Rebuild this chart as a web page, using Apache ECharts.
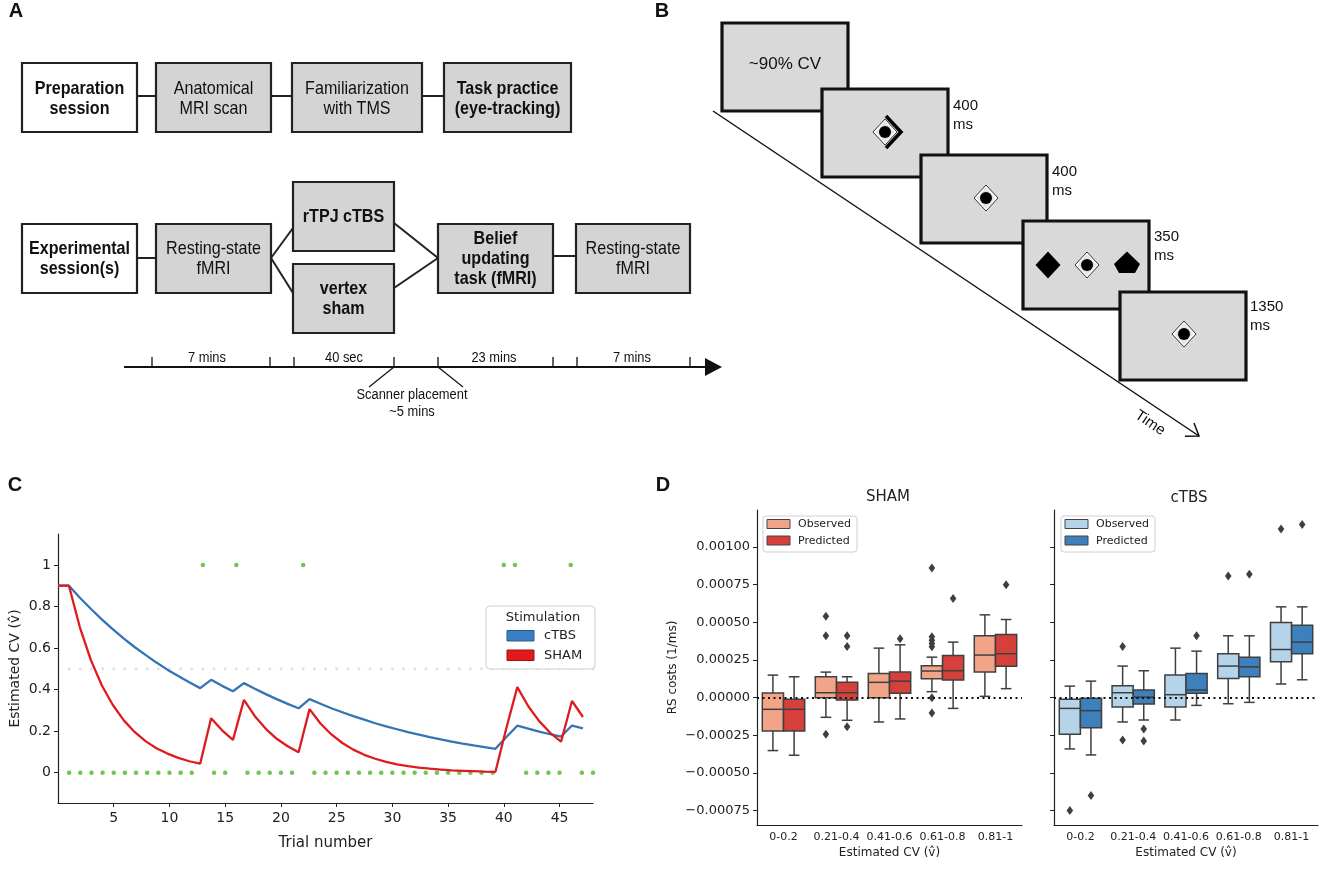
<!DOCTYPE html>
<html><head><meta charset="utf-8">
<script src="https://cdn.jsdelivr.net/npm/echarts@6/dist/echarts.min.js"></script>
<style>html,body{margin:0;padding:0;background:#fff}#chart{width:1333px;height:878px}</style>
</head><body><div id="chart"></div>
<script>
// ================= DATA =================
// ---- Panel A (study design) ----
const prepSteps = ['Preparation\nsession', 'Anatomical\nMRI scan', 'Familiarization\nwith TMS', 'Task practice\n(eye-tracking)'];
const expSteps = ['Experimental\nsession(s)', 'Resting-state\nfMRI', 'rTPJ cTBS', 'vertex\nsham', 'Belief\nupdating\ntask (fMRI)', 'Resting-state\nfMRI'];
const timelineLabels = ['7 mins', '40 sec', '23 mins', '7 mins'];
const scannerNote = 'Scanner placement\n~5 mins';
// ---- Panel B (trial sequence) ----
const cueText = '~90% CV';
const durations = ['400\nms', '400\nms', '350\nms', '1350\nms'];
const timeLabel = 'Time';
// ---- Panel C (estimated CV per trial) ----
const lineTrials = [0,1,2,3,4,5,6,7,8,9,10,11,12,13,14,15,16,17,18,19,20,21,22,23,24,25,26,27,28,29,30,31,32,33,34,35,36,37,38,39,40,41,42,43,44,45,46,47,48];
const ctbsCV = [0.900,0.900,0.842,0.789,0.738,0.691,0.647,0.605,0.567,0.530,
                0.496,0.465,0.435,0.407,0.447,0.418,0.392,0.431,0.404,0.378,
                0.354,0.331,0.310,0.354,0.332,0.310,0.291,0.272,0.255,0.238,
                0.223,0.209,0.195,0.183,0.171,0.160,0.150,0.140,0.131,0.123,
                0.115,0.172,0.226,0.212,0.198,0.185,0.174,0.227,0.213];
const shamCV = [0.900,0.900,0.700,0.543,0.421,0.327,0.253,0.196,0.152,0.118,
                0.092,0.071,0.055,0.043,0.262,0.204,0.158,0.350,0.272,0.211,
                0.163,0.127,0.098,0.306,0.237,0.184,0.143,0.111,0.086,0.067,
                0.052,0.040,0.031,0.024,0.019,0.015,0.011,0.009,0.007,0.005,
                0.004,0.215,0.412,0.320,0.248,0.192,0.149,0.345,0.268];
const outcomeTrials = [1,2,3,4,5,6,7,8,9,10,11,12,13,14,15,16,17,18,19,20,21,22,23,24,25,26,27,28,29,30,31,32,33,34,35,36,37,38,39,40,41,42,43,44,45,46,47,48];
const outcomes = [0,0,0,0,0,0,0,0,0,0,0,0,1,0,0,1,0,0,0,0,0,1,0,0,0,0,0,0,0,0,0,0,0,0,0,0,0,0,0,1,1,0,0,0,0,1,0,0];
const chanceLevel = 0.5;
const cXTicks = [5,10,15,20,25,30,35,40,45];
const cYTicks = [0,0.2,0.4,0.6,0.8,1];
const stimNames = ['cTBS', 'SHAM'];
// ---- Panel D (RS costs boxplots): [min, Q1, median, Q3, max] ----
const cvBins = ['0-0.2', '0.21-0.4', '0.41-0.6', '0.61-0.8', '0.81-1'];
const shamObserved = [
  [-0.000351,-0.000221,-0.000077, 0.000031, 0.000150],
  [-0.000130, 0.000000, 0.000033, 0.000139, 0.000170],
  [-0.000161, 0.000000, 0.000102, 0.000161, 0.000329],
  [ 0.000040, 0.000126, 0.000177, 0.000212, 0.000269],
  [ 0.000009, 0.000170, 0.000283, 0.000411, 0.000550]];
const shamPredicted = [
  [-0.000382,-0.000221,-0.000077,-0.000011, 0.000139],
  [-0.000150,-0.000016, 0.000033, 0.000102, 0.000139],
  [-0.000141, 0.000029, 0.000110, 0.000170, 0.000351],
  [-0.000071, 0.000117, 0.000179, 0.000280, 0.000369],
  [ 0.000060, 0.000208, 0.000292, 0.000420, 0.000519]];
const ctbsObserved = [
  [-0.000340,-0.000243,-0.000071,-0.000011, 0.000077],
  [-0.000161,-0.000062, 0.000033, 0.000080, 0.000210],
  [-0.000148,-0.000062, 0.000020, 0.000150, 0.000329],
  [-0.000040, 0.000128, 0.000210, 0.000292, 0.000411],
  [ 0.000091, 0.000239, 0.000320, 0.000499, 0.000603]];
const ctbsPredicted = [
  [-0.000380,-0.000199,-0.000086,-0.000004, 0.000110],
  [-0.000148,-0.000042, 0.000004, 0.000051, 0.000179],
  [-0.000051, 0.000029, 0.000051, 0.000161, 0.000309],
  [-0.000031, 0.000139, 0.000205, 0.000269, 0.000411],
  [ 0.000119, 0.000292, 0.000369, 0.000481, 0.000603]];
// outliers: [bin index, value]
const shamObservedOut = [[1,0.000541],[1,0.000411],[1,-0.000243],[3,0.000861],[3,0.000404],[3,0.000382],[3,0.000360],[3,0.000338],[3,0.000000],[3,-0.000102]];
const shamPredictedOut = [[1,0.000411],[1,0.000340],[1,-0.000192],[2,0.000391],[3,0.000658],[4,0.000749]];
const ctbsObservedOut = [[0,-0.000749],[1,0.000340],[1,-0.000280],[3,0.000808],[4,0.001120]];
const ctbsPredictedOut = [[0,-0.000649],[1,-0.000208],[1,-0.000287],[2,0.000411],[3,0.000819],[4,0.001150]];
const dYTicks = [-0.00075,-0.0005,-0.00025,0,0.00025,0.0005,0.00075,0.001];
const groupNames = ['Observed', 'Predicted'];
const panelTitles = ['SHAM', 'cTBS'];

// ================= STYLE / LAYOUT =================
const FONT_AB = "'Liberation Sans', Arial, sans-serif";
const FONT_CD = "'DejaVu Sans', sans-serif";
const INK = '#222';
const C_BLUE = '#3274b5', C_RED = '#de1b1f', C_GREEN = '#4cb826';
const D_COL = {shamObs:'#f2a489', shamPred:'#d6403a', ctbsObs:'#b5d4e9', ctbsPred:'#3d80bb'};

const G = [];
function gRect(x, y, w, h, style, extra) { G.push(Object.assign({type:'rect', shape:{x, y, width:w, height:h}, style}, extra || {})); }
function gLine(x1, y1, x2, y2, stroke, lw, extra) { G.push(Object.assign({type:'line', shape:{x1, y1, x2, y2}, style:{stroke, lineWidth:lw}}, extra || {})); }
function gPoly(points, style, closed) { G.push({type: closed ? 'polygon' : 'polyline', shape:{points}, style}); }
function gCircle(cx, cy, r, style) { G.push({type:'circle', shape:{cx, cy, r}, style}); }
function gText(x, y, text, o) {
  o = o || {};
  G.push({type:'text', x, y, scaleX:o.sx || 1, rotation:o.rot || 0, z:o.z || 1,
    style:{text, fontSize:o.size || 14, fontFamily:o.family || FONT_AB, fontWeight:o.bold ? 'bold' : 'normal',
      fill:o.color || '#111', align:o.align || 'center', verticalAlign:'middle', lineHeight:o.lh || Math.round((o.size || 14) * 1.15)}});
}

// panel letters
gText(16, 11, 'A', {size:20, bold:true});
gText(662, 11, 'B', {size:20, bold:true});
gText(15, 485, 'C', {size:20, bold:true});
gText(663, 485, 'D', {size:20, bold:true});

// ---- Panel A ----
const boxStroke = '#222', boxGray = '#d4d4d4';
const prepLayout = [[22,115],[156,115],[292,130],[444,127]]; // x, width
const prepY = 63, boxH = 69;
const prepBold = [true, false, false, true];
[[137,156],[271,292],[422,444]].forEach(p => gLine(p[0], 96, p[1], 96, boxStroke, 2));
prepLayout.forEach((b, i) => {
  gRect(b[0], prepY, b[1], boxH, {fill: i === 0 ? '#fff' : boxGray, stroke: boxStroke, lineWidth: 2.2});
  gText(b[0] + b[1] / 2, prepY + boxH / 2 + 1, prepSteps[i], {size:18.5, sx:0.87, bold: prepBold[i], lh:20});
});
const expLayout = [[22,224,115],[156,224,115],[293,182,101],[293,264,101],[438,224,115],[576,224,114]];
const expBold = [true, false, true, true, true, false];
[[137,258,156,258],[271,258,293,228],[271,258,293,293],[394,223,438,258],[394,288,438,258],[553,256,576,256]]
  .forEach(l => gLine(l[0], l[1], l[2], l[3], boxStroke, 2));
expLayout.forEach((b, i) => {
  gRect(b[0], b[1], b[2], boxH, {fill: i === 0 ? '#fff' : boxGray, stroke: boxStroke, lineWidth: 2.2});
  gText(b[0] + b[2] / 2, b[1] + boxH / 2 + 0.5, expSteps[i], {size:18.5, sx:0.87, bold: expBold[i], lh:20});
});
// timeline
gLine(124, 367, 708, 367, '#111', 1.8);
gPoly([[705,358],[722,367],[705,376]], {fill:'#111'}, true);
[152,270,294,394,438,553,577,690].forEach(x => gLine(x, 357, x, 367, '#111', 1.3));
[207,344,494,632].forEach((x, i) => gText(x, 358, timelineLabels[i], {size:14, sx:0.92}));
gLine(394, 367, 369, 387, '#111', 1.2);
gLine(438, 367, 463, 387, '#111', 1.2);
gText(412, 404, scannerNote, {size:14, sx:0.92, lh:17});

// ---- Panel B ----
gLine(713, 111, 1199, 436, '#111', 1.5);
gPoly([[1194,423],[1199,436],[1185,436.3]], {stroke:'#111', lineWidth:1.5, fill:null}, false);
gText(1150, 423, timeLabel, {size:15, rot:-0.59});
const screens = [[722,23],[822,89],[921,155],[1023,221],[1120,292]];
const scrW = 126, scrH = 88;
const durPos = [[953,115.5],[1052,181.5],[1154,246.5],[1250,316.5]];
screens.forEach((s, i) => {
  gRect(s[0], s[1], scrW, scrH, {fill:'#d9d9d9', stroke:'#111', lineWidth:3.2});
  if (i > 0) gText(durPos[i-1][0], durPos[i-1][1], durations[i-1], {size:15, align:'left', lh:19});
});
gText(785, 64, cueText, {size:17});
function diamondCircle(cx, cy) {
  gPoly([[cx,cy-13],[cx+12,cy],[cx,cy+13],[cx-12,cy]], {fill:'#fff', stroke:'#333', lineWidth:1}, true);
  gPoly([[cx,cy-10.5],[cx+9.5,cy],[cx,cy+10.5],[cx-9.5,cy]], {fill:'#e4e4e4'}, true);
  gCircle(cx, cy, 6, {fill:'#000'});
}
diamondCircle(885, 132);
gPoly([[886,116],[901,132],[886,148]], {stroke:'#000', lineWidth:3.5, fill:null}, false);
diamondCircle(986, 198);
gPoly([[1048,251.5],[1060.5,265],[1048,278.5],[1035.5,265]], {fill:'#000'}, true);
diamondCircle(1087, 265);
gPoly([[1127,251.5],[1140,264],[1135,273],[1119,273],[1114,264]], {fill:'#000'}, true);
diamondCircle(1184, 334);

// ---- Panel C legend (graphic) ----
gRect(486, 606, 109, 63, {fill:'rgba(255,255,255,0.85)', stroke:'#cfcfcf', lineWidth:1}, {z:10, shape:{x:486, y:606, width:109, height:63, r:4}});
gText(543, 618, 'Stimulation', {size:13, family:FONT_CD, z:11, color:INK});
gRect(507, 630.5, 27, 10.5, {fill:'#3a7fc4', stroke:'#2a5a8c', lineWidth:1}, {z:11});
gRect(507, 650, 27, 10.5, {fill:'#e31a1c', stroke:'#9a1215', lineWidth:1}, {z:11});
gText(544, 636, stimNames[0], {size:13, family:FONT_CD, align:'left', z:11, color:INK});
gText(544, 655.5, stimNames[1], {size:13, family:FONT_CD, align:'left', z:11, color:INK});

// ---- Panel D titles and legends ----
gText(888, 497, panelTitles[0], {size:15, family:FONT_CD, color:INK});
gText(1189, 498, panelTitles[1], {size:15, family:FONT_CD, color:INK});
function dLegend(x0, c1, c2) {
  gRect(x0, 516, 94, 36, {fill:'rgba(255,255,255,0.85)', stroke:'#d0d0d0', lineWidth:1}, {z:10, shape:{x:x0, y:516, width:94, height:36, r:3}});
  gRect(x0 + 4, 519.5, 23, 9, {fill:c1, stroke:'#444', lineWidth:1}, {z:11});
  gRect(x0 + 4, 536, 23, 9, {fill:c2, stroke:'#444', lineWidth:1}, {z:11});
  gText(x0 + 35, 524.5, groupNames[0], {size:11, family:FONT_CD, align:'left', z:11, color:INK});
  gText(x0 + 35, 541, groupNames[1], {size:11, family:FONT_CD, align:'left', z:11, color:INK});
}
dLegend(763, D_COL.shamObs, D_COL.shamPred);
dLegend(1061, D_COL.ctbsObs, D_COL.ctbsPred);

// ================= CHART =================
const axisLineStyle = {onZero:false, lineStyle:{color:INK, width:1.2}};
function boxRenderer(side, fill) {
  return function (params, api) {
    const cat = api.value(0);
    const band = api.size([1, 0])[0];
    const w = band * 0.4;
    const cx = api.coord([cat, 0])[0] + side * band * 0.2;
    const y = k => api.coord([cat, api.value(k)])[1];
    const yMin = y(1), yQ1 = y(2), yMed = y(3), yQ3 = y(4), yMax = y(5);
    const st = {stroke:'#3f3f3f', lineWidth:1.5};
    return {type:'group', children:[
      {type:'line', shape:{x1:cx, y1:yMin, x2:cx, y2:yQ1}, style:st},
      {type:'line', shape:{x1:cx, y1:yQ3, x2:cx, y2:yMax}, style:st},
      {type:'line', shape:{x1:cx - w/4, y1:yMin, x2:cx + w/4, y2:yMin}, style:st},
      {type:'line', shape:{x1:cx - w/4, y1:yMax, x2:cx + w/4, y2:yMax}, style:st},
      {type:'rect', shape:{x:cx - w/2, y:yQ3, width:w, height:yQ1 - yQ3}, style:{fill, stroke:'#3f3f3f', lineWidth:1.5}},
      {type:'line', shape:{x1:cx - w/2, y1:yMed, x2:cx + w/2, y2:yMed}, style:st}
    ]};
  };
}
function outRenderer(side) {
  return function (params, api) {
    const band = api.size([1, 0])[0];
    const p = api.coord([api.value(0), api.value(1)]);
    const cx = p[0] + side * band * 0.2, cy = p[1];
    return {type:'polygon', shape:{points:[[cx, cy - 4.5],[cx + 3.3, cy],[cx, cy + 4.5],[cx - 3.3, cy]]}, style:{fill:'#3f3f3f'}};
  };
}
function boxSeries(name, stats, side, fill, xi, yi, withZero) {
  const s = {type:'custom', name, xAxisIndex:xi, yAxisIndex:yi, silent:true,
    data: stats.map((v, i) => [i].concat(v)), encode:{x:0, y:[1,2,3,4,5]},
    renderItem: boxRenderer(side, fill), z:2};
  if (withZero) s.markLine = {silent:true, symbol:'none', label:{show:false}, animation:false,
    lineStyle:{type:[2,3.5], color:'#111', width:1.8}, data:[{yAxis:0}]};
  return s;
}
function outSeries(name, pts, side, xi, yi) {
  return {type:'custom', name, xAxisIndex:xi, yAxisIndex:yi, silent:true, data:pts, encode:{x:0, y:1}, renderItem: outRenderer(side), z:3};
}
function catAxis(grid) {
  return {type:'category', gridIndex:grid, data:cvBins, boundaryGap:true,
    axisLine:axisLineStyle, axisTick:{alignWithLabel:true, length:4, lineStyle:{color:INK}},
    axisLabel:{interval:0, fontSize:11, fontFamily:FONT_CD, color:INK, margin:7},
    name:'Estimated CV (v\u0302)', nameLocation:'middle', nameGap:22, nameTextStyle:{fontSize:12, fontFamily:FONT_CD, color:INK},
    splitLine:{show:false}};
}
function dYAxis(grid, labels) {
  const ax = {type:'value', gridIndex:grid, min:-0.000845, max:0.001246,
    axisLine:Object.assign({show:true}, axisLineStyle),
    axisTick:{show:true, customValues:dYTicks, length:4, lineStyle:{color:INK}},
    axisLabel:{show:labels, customValues:dYTicks, fontSize:13, fontFamily:FONT_CD, color:INK, margin:7,
      formatter: v => (v < 0 ? '\u2212' : '') + Math.abs(v).toFixed(5)},
    splitLine:{show:false}};
  if (labels) Object.assign(ax, {name:'RS costs (1/ms)', nameLocation:'middle', nameGap:78, nameTextStyle:{fontSize:12, fontFamily:FONT_CD, color:INK}});
  return ax;
}

const option = {
  animation:false,
  backgroundColor:'#fff',
  graphic:{elements:G},
  grid:[
    {left:58, top:534, width:535, height:269},
    {left:757, top:510, width:265, height:315},
    {left:1054, top:510, width:264, height:315}
  ],
  xAxis:[
    {type:'value', gridIndex:0, min:0, max:48, axisLine:axisLineStyle,
     axisTick:{customValues:cXTicks, length:4, lineStyle:{color:INK}},
     axisLabel:{customValues:cXTicks, fontSize:14, fontFamily:FONT_CD, color:INK, margin:8},
     splitLine:{show:false},
     name:'Trial number', nameLocation:'middle', nameGap:33, nameTextStyle:{fontSize:15, fontFamily:FONT_CD, color:INK}},
    {type:'value', gridIndex:0, min:0, max:48.92, show:false},
    catAxis(1), catAxis(2)
  ],
  yAxis:[
    {type:'value', gridIndex:0, min:-0.146, max:1.149, axisLine:Object.assign({show:true}, axisLineStyle),
     axisTick:{show:true, customValues:cYTicks, length:4, lineStyle:{color:INK}},
     axisLabel:{customValues:cYTicks, fontSize:14, fontFamily:FONT_CD, color:INK, margin:7, formatter: v => String(+(+v).toFixed(2))},
     splitLine:{show:false},
     name:'Estimated CV (v\u0302)', nameLocation:'middle', nameGap:36, nameTextStyle:{fontSize:14, fontFamily:FONT_CD, color:INK}},
    dYAxis(1, true), dYAxis(2, false)
  ],
  series:[
    {type:'scatter', name:'chance', xAxisIndex:0, yAxisIndex:0, silent:true, symbolSize:3,
     itemStyle:{color:'#dadada'}, data: outcomeTrials.map(t => [t, chanceLevel]), z:1},
    {type:'scatter', name:'outcome', xAxisIndex:0, yAxisIndex:0, silent:true, symbolSize:4.5,
     itemStyle:{color:C_GREEN}, data: outcomeTrials.map((t, i) => [t, outcomes[i]]), z:3},
    {type:'line', name:stimNames[0], xAxisIndex:1, yAxisIndex:0, showSymbol:false, silent:true,
     lineStyle:{color:C_BLUE, width:2.3}, itemStyle:{color:C_BLUE}, data: lineTrials.map((t, i) => [t, ctbsCV[i]]), z:4},
    {type:'line', name:stimNames[1], xAxisIndex:1, yAxisIndex:0, showSymbol:false, silent:true,
     lineStyle:{color:C_RED, width:2.3}, itemStyle:{color:C_RED}, data: lineTrials.map((t, i) => [t, shamCV[i]]), z:5},
    boxSeries('SHAM ' + groupNames[0], shamObserved, -1, D_COL.shamObs, 2, 1, true),
    boxSeries('SHAM ' + groupNames[1], shamPredicted, 1, D_COL.shamPred, 2, 1, false),
    outSeries('SHAM ' + groupNames[0] + ' outliers', shamObservedOut, -1, 2, 1),
    outSeries('SHAM ' + groupNames[1] + ' outliers', shamPredictedOut, 1, 2, 1),
    boxSeries('cTBS ' + groupNames[0], ctbsObserved, -1, D_COL.ctbsObs, 3, 2, true),
    boxSeries('cTBS ' + groupNames[1], ctbsPredicted, 1, D_COL.ctbsPred, 3, 2, false),
    outSeries('cTBS ' + groupNames[0] + ' outliers', ctbsObservedOut, -1, 3, 2),
    outSeries('cTBS ' + groupNames[1] + ' outliers', ctbsPredictedOut, 1, 3, 2)
  ]
};
const chart = echarts.init(document.getElementById('chart'), null, {width:1333, height:878});
chart.setOption(option);
</script>
</body></html>
